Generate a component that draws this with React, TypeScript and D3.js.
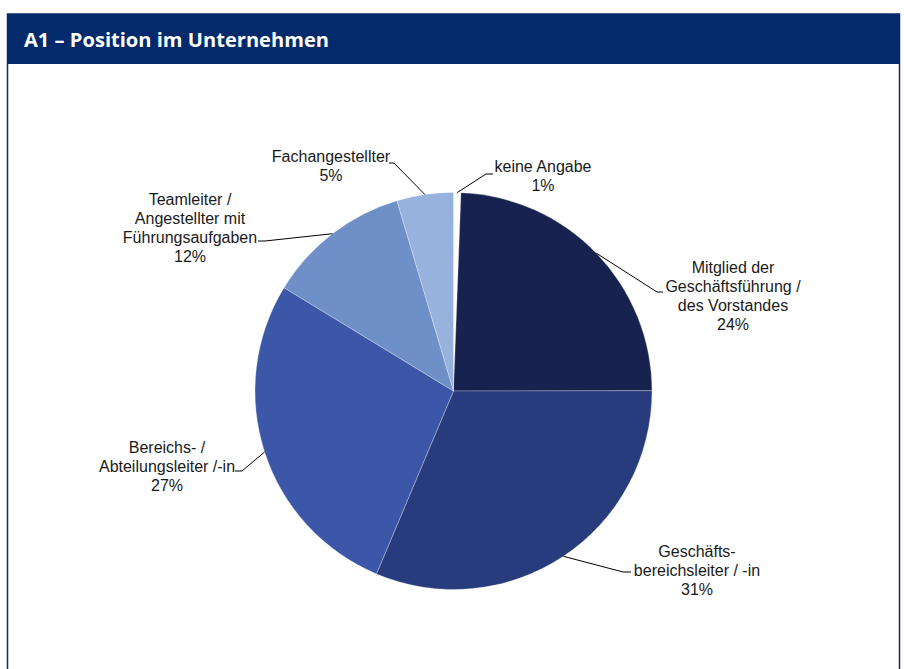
import React from "react";
import * as d3 from "d3";

const title = "A1 – Position im Unternehmen";
const categories = [
  "keine Angabe",
  "Mitglied der Geschäftsführung / des Vorstandes",
  "Geschäftsbereichsleiter / -in",
  "Bereichs- / Abteilungsleiter /-in",
  "Teamleiter / Angestellter mit Führungsaufgaben",
  "Fachangestellter",
];
const values = [0.6, 24.4, 31.4, 27.4, 11.7, 4.6];
const labelLines = [
  ["keine Angabe"],
  ["Mitglied der", "Geschäftsführung /", "des Vorstandes"],
  ["Geschäfts-", "bereichsleiter / -in"],
  ["Bereichs- /", "Abteilungsleiter /-in"],
  ["Teamleiter /", "Angestellter mit", "Führungsaufgaben"],
  ["Fachangestellter"],
];
const colors = ["#ffffff", "#17224f", "#283b7d", "#3c57a7", "#6f8fc8", "#98b2de"];

// layout: label text center/first baseline, leader elbow and end
const labelLayout = [
  { tx: 543, ty: 172, elbow: [486, 174], end: [493, 174] },
  { tx: 733, ty: 273, elbow: [657, 292], end: [663, 292] },
  { tx: 697, ty: 557, elbow: [623, 572], end: [631, 572] },
  { tx: 167, ty: 453, elbow: [242, 471], end: [235, 471] },
  { tx: 190, ty: 205, elbow: [265, 241], end: [258, 241] },
  { tx: 331, ty: 162, elbow: [394, 163], end: [389, 163] },
];

export default function App() {
  const W = 904;
  const H = 669;
  const cx = 453.5;
  const cy = 391;
  const r = 198.5;
  const pie = d3.pie<number>().sort(null).value((d) => d);
  const arcs = pie(values);
  const arc = d3.arc<d3.PieArcDatum<number>>().innerRadius(0).outerRadius(r);
  const lineH = 19;
  const fmt = (v: number) => `${Math.round(v)}%`;

  return (
    <svg
      width={W}
      height={H}
      style={{ position: "absolute", left: 0, top: 0, background: "#fff" }}
    >
      <rect x={7.5} y={14} width={892} height={700} fill="#fff" stroke="#0a2d6e" strokeWidth={1.5} />
      <rect x={7} y={14} width={893} height={50} fill="#032a6a" />
      <text
        x={24}
        y={47}
        fill="#fff"
        fontFamily="'Open Sans', sans-serif"
        fontWeight={700}
        fontSize={19.5}
        textLength={305}
        lengthAdjust="spacingAndGlyphs"
      >
        {title}
      </text>
      <g transform={`translate(${cx},${cy})`}>
        {arcs.map((a, i) => (
          <path
            key={categories[i]}
            d={arc(a) || ""}
            fill={colors[i]}
            stroke="#ffffff"
            strokeOpacity={0.35}
            strokeWidth={0.8}
          />
        ))}
      </g>
      {arcs.map((a, i) => {
        const mid = (a.startAngle + a.endAngle) / 2;
        const px = cx + r * Math.sin(mid);
        const py = cy - r * Math.cos(mid);
        const L = labelLayout[i];
        const lines = [...labelLines[i], fmt(values[i])];
        return (
          <g key={"l" + i}>
            <polyline
              points={`${px},${py} ${L.elbow[0]},${L.elbow[1]} ${L.end[0]},${L.end[1]}`}
              fill="none"
              stroke="#000"
              strokeWidth={1}
            />
            <text
              textAnchor="middle"
              fontFamily="'Liberation Sans', Arial, sans-serif"
              fontSize={16}
              fill="#1a1a1a"
            >
              {lines.map((t, j) => (
                <tspan key={j} x={L.tx} y={L.ty + j * lineH}>
                  {t}
                </tspan>
              ))}
            </text>
          </g>
        );
      })}
    </svg>
  );
}
